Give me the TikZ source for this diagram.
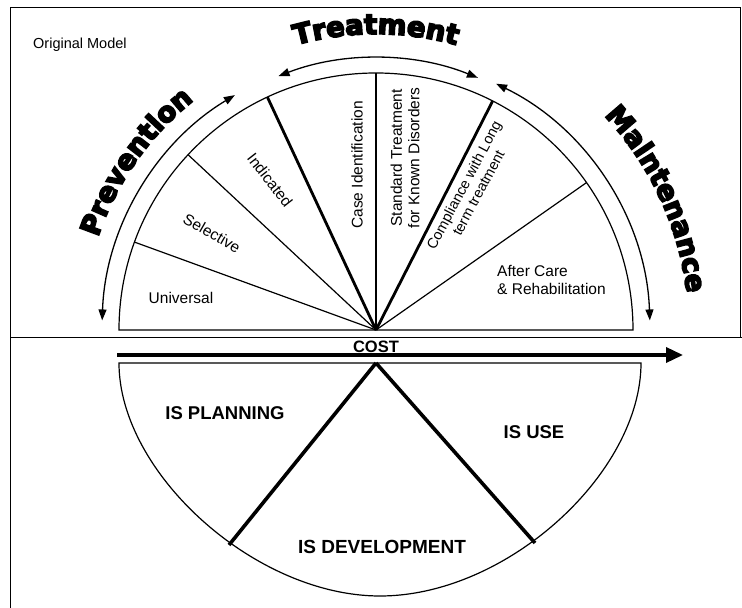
\documentclass[tikz,border=0pt]{standalone}
\usepackage{fontspec}
\setmainfont{Liberation Sans}
\newfontfamily\heavyfont[BoldFeatures={FakeBold=6}]{DejaVu Sans}
\newcommand\phasefont{\heavyfont\bfseries\fontsize{27.5}{27.5}\selectfont}
\usetikzlibrary{arrows.meta,decorations.text}

\begin{document}
\begin{tikzpicture}[
    x=1pt, y=1pt,
    font=\fontsize{15.5}{17.5}\selectfont,
    rim/.style={line width=1.2pt},
    spoke/.style={line width=1.2pt},
    heavy spoke/.style={line width=2.8pt},
    arc arr/.style={line width=1.3pt, {Triangle[length=11pt,width=8pt]}-{Triangle[length=11pt,width=8pt]}},
    lbl/.style={inner sep=0pt, align=center},
    part/.style={inner sep=0pt, font=\bfseries\fontsize{18.5}{20}\selectfont},
    phase/.style={decorate, decoration={text along path, text align=center, text={|\phasefont|#1}}},
  ]
    \useasboundingbox (0,0) rectangle (742,608);

    % frame and separator
    \draw[line width=1pt] (10,0) -- (10,600) -- (740,600) -- (740,270);
    \draw[line width=1pt] (10,270) -- (742,270);
    \node[anchor=west, inner sep=0pt, font=\fontsize{14.5}{16}\selectfont] (title) at (33,563) {Original Model};

    % upper half disk
    \coordinate (u) at (376,278);
    \draw[rim] (u) ++(-257,0) arc[start angle=180, end angle=0, radius=257] -- cycle;
    \foreach \a in {160,137,90,35}
      \draw[spoke] (u) -- ++(\a:257);
    \foreach \a in {115,63}
      \draw[heavy spoke] (u) -- ++(\a:257);

    \node[lbl] (univ) at (181,310) {Universal};
    \node[lbl, rotate=-30] (sel) at (212,375) {Selective};
    \node[lbl, rotate=-52] (ind) at (270,428) {Indicated};
    \node[lbl, rotate=90] (case) at (357,443) {Case Identification};
    \node[lbl, rotate=90] (std) at (405,450) {Standard Treatment\\for Known Disorders};
    \node[lbl, rotate=62, font=\fontsize{14.5}{16.5}\selectfont] (comp) at (471,419) {Compliance with Long\\term treatment};
    \node[lbl, align=left, anchor=west] (after) at (497,328) {After Care\\\& Rehabilitation};

    % arrows round the disk
    \draw[arc arr] (u) ++(121:274) arc[start angle=121, end angle=178, radius=274];
    \draw[arc arr] (u) ++(111:272) arc[start angle=111, end angle=68, radius=272];
    \draw[arc arr] (u) ++(64:274) arc[start angle=64, end angle=2, radius=274];

    \path[phase=Prevention] (u) ++(172:293) arc[start angle=172, end angle=118, radius=293];
    \path[phase=Treatment] (u) ++(118:296) arc[start angle=118, end angle=62, radius=296];
    \path[phase=Maintenance] (u) ++(52:313) arc[start angle=52, end angle=-2, radius=313];

    % cost axis
    \coordinate (cs) at (117,253);
    \coordinate (ce) at (683,253);
    \draw[line width=3.5pt, -{Triangle[length=17pt,width=15pt]}] (cs) -- (ce);
    \node[inner sep=0pt, font=\bfseries\fontsize{16.5}{16.5}\selectfont] (cost) at (376,261) {COST};

    % lower half disk
    \coordinate (l) at (376,245);
    \coordinate (lw) at (119,245);
    \coordinate (le) at (641,245);
    \coordinate (lb) at (380,12);
    \coordinate (pd) at (229,63);
    \coordinate (du) at (535,65);
    \draw[rim] (lw) .. controls (119,135) and (255,12) .. (lb)
      .. controls (507,12) and (641,135) .. (le) -- cycle;
    \draw[line width=3.6pt] (l) -- (pd);
    \draw[line width=3.6pt] (l) -- (du);

    \node[part] (plan) at (225,195) {IS PLANNING};
    \node[part] (use) at (534,176) {IS USE};
    \node[part, font=\bfseries\fontsize{19}{20}\selectfont] (dev) at (382,61) {IS DEVELOPMENT};
\end{tikzpicture}
\end{document}
